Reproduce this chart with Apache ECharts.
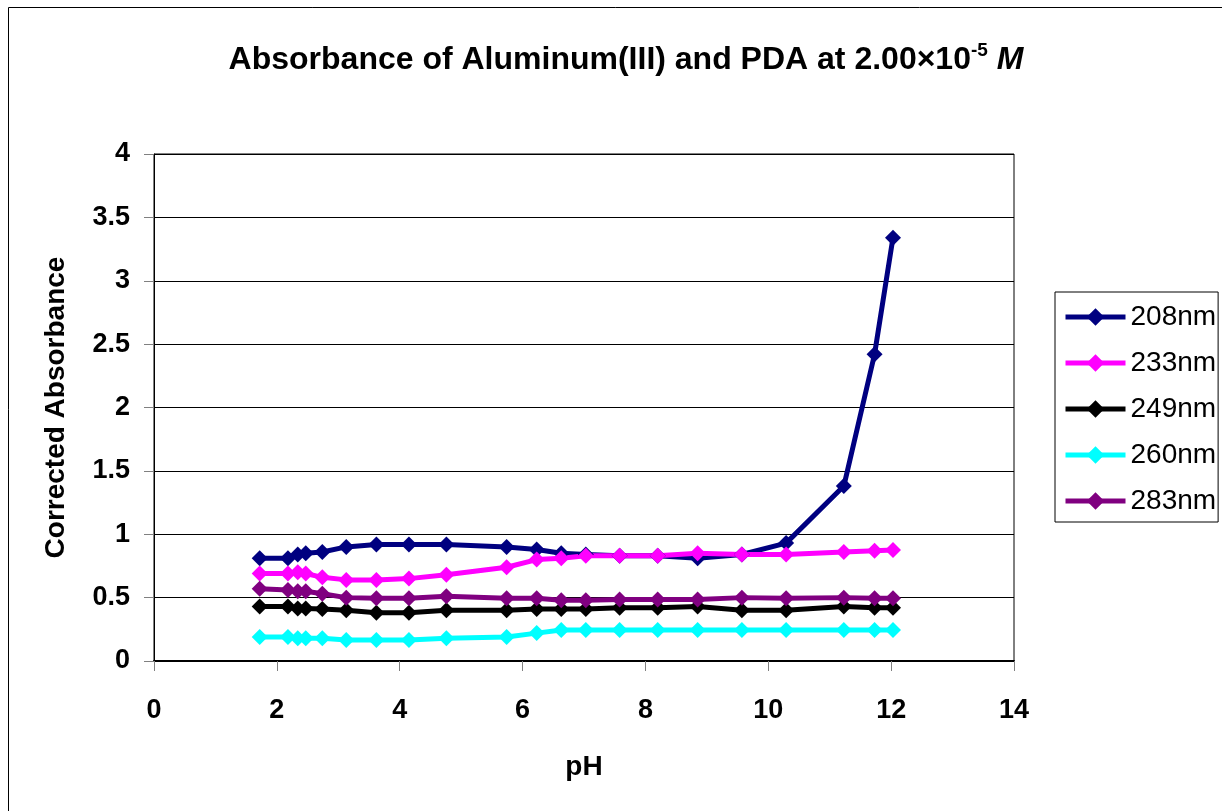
<!DOCTYPE html>
<html>
<head>
<meta charset="utf-8">
<script src="https://cdn.jsdelivr.net/npm/echarts@6/dist/echarts.min.js"></script>
<style>
html,body{margin:0;padding:0;background:#fff;}
#chart{width:1222px;height:811px;}
</style>
</head>
<body>
<div id="chart"></div>
<script>
const pH = [1.72, 2.18, 2.34, 2.47, 2.74, 3.13, 3.62, 4.15, 4.76, 5.74, 6.23, 6.63, 7.03, 7.58, 8.20, 8.85, 9.57, 10.29, 11.23, 11.73, 12.03];
const abs208 = [0.81, 0.81, 0.84, 0.85, 0.86, 0.90, 0.92, 0.92, 0.92, 0.90, 0.88, 0.85, 0.84, 0.83, 0.83, 0.81, 0.84, 0.93, 1.38, 2.42, 3.34];
const abs233 = [0.69, 0.69, 0.70, 0.69, 0.66, 0.64, 0.64, 0.65, 0.68, 0.74, 0.80, 0.81, 0.83, 0.83, 0.83, 0.85, 0.84, 0.84, 0.86, 0.87, 0.875];
const abs249 = [0.43, 0.43, 0.415, 0.415, 0.41, 0.40, 0.38, 0.38, 0.40, 0.40, 0.41, 0.41, 0.41, 0.42, 0.42, 0.43, 0.40, 0.40, 0.43, 0.42, 0.42];
const abs260 = [0.19, 0.19, 0.18, 0.18, 0.18, 0.165, 0.165, 0.165, 0.18, 0.19, 0.22, 0.245, 0.245, 0.245, 0.245, 0.245, 0.245, 0.245, 0.245, 0.245, 0.245];
const abs283 = [0.57, 0.56, 0.55, 0.55, 0.53, 0.50, 0.495, 0.495, 0.51, 0.495, 0.495, 0.48, 0.48, 0.485, 0.485, 0.485, 0.50, 0.495, 0.50, 0.495, 0.495];
const seriesNames = ['208nm', '233nm', '249nm', '260nm', '283nm'];
const seriesColors = ['#000080', '#FF00FF', '#000000', '#00FFFF', '#800080'];
const seriesValues = [abs208, abs233, abs249, abs260, abs283];

const FONT = "'Liberation Sans', Arial, sans-serif";
const chart = echarts.init(document.getElementById('chart'), null, {renderer: 'canvas'});

const series = seriesNames.map((name, i) => ({
  name: name,
  type: 'line',
  data: pH.map((x, j) => [x, seriesValues[i][j]]),
  symbol: 'diamond',
  symbolSize: 16,
  color: seriesColors[i],
  lineStyle: {width: 5, color: seriesColors[i]},
  itemStyle: {color: seriesColors[i]},
  emphasis: {disabled: true},
  animation: false
}));

chart.setOption({
  backgroundColor: '#fff',
  animation: false,
  title: {
    text: '{t|Absorbance of Aluminum(III) and PDA at 2.00×10}{sup|-5}{t| }{it|M}',
    left: 621,
    textAlign: 'center',
    top: 36,
    textStyle: {
      rich: {
        t: {fontFamily: FONT, fontWeight: 'bold', fontSize: 32, color: '#000', lineHeight: 38},
        sup: {fontFamily: FONT, fontWeight: 'bold', fontSize: 19, color: '#000', verticalAlign: 'top', lineHeight: 38, padding: [0, 0, 14, 0]},
        it: {fontFamily: FONT, fontWeight: 'bold', fontStyle: 'italic', fontSize: 32, color: '#000', lineHeight: 38}
      }
    }
  },
  graphic: [{
    type: 'rect',
    shape: {x: 8.5, y: 7.5, width: 1300, height: 900},
    style: {fill: 'none', stroke: '#000', lineWidth: 1},
    silent: true,
    z: -10
  }],
  legend: {
    data: seriesNames,
    orient: 'vertical',
    left: 1055,
    top: 292,
    itemWidth: 60,
    itemHeight: 22,
    itemGap: 18,
    padding: [11, 2, 7, 8],
    borderColor: '#000',
    borderWidth: 1,
    lineStyle: {width: 5},
    textStyle: {fontFamily: FONT, fontSize: 28, color: '#000'}
  },
  grid: {
    left: 154, right: 208, top: 154, bottom: 150,
    show: true, borderColor: '#000', borderWidth: 1, backgroundColor: 'transparent'
  },
  xAxis: {
    type: 'value',
    min: 0, max: 14, interval: 2,
    name: 'pH',
    nameLocation: 'middle',
    nameGap: 92,
    nameTextStyle: {fontFamily: FONT, fontWeight: 'bold', fontSize: 28, color: '#000'},
    axisLine: {show: true, lineStyle: {color: '#000', width: 2}},
    axisTick: {show: true, length: 10, lineStyle: {color: '#808080', width: 1}},
    axisLabel: {fontFamily: FONT, fontWeight: 'bold', fontSize: 27, color: '#000', margin: 36},
    splitLine: {show: false}
  },
  yAxis: {
    type: 'value',
    min: 0, max: 4, interval: 0.5,
    name: 'Corrected Absorbance',
    nameLocation: 'middle',
    nameGap: 84,
    nameTextStyle: {fontFamily: FONT, fontWeight: 'bold', fontSize: 28, color: '#000'},
    axisLine: {show: true, lineStyle: {color: '#000', width: 1}},
    axisTick: {show: true, length: 10, lineStyle: {color: '#808080', width: 1}},
    axisLabel: {fontFamily: FONT, fontWeight: 'bold', fontSize: 27, color: '#000', margin: 24},
    splitLine: {show: true, lineStyle: {color: '#000', width: 1}}
  },
  series: series
});
</script>
</body>
</html>
